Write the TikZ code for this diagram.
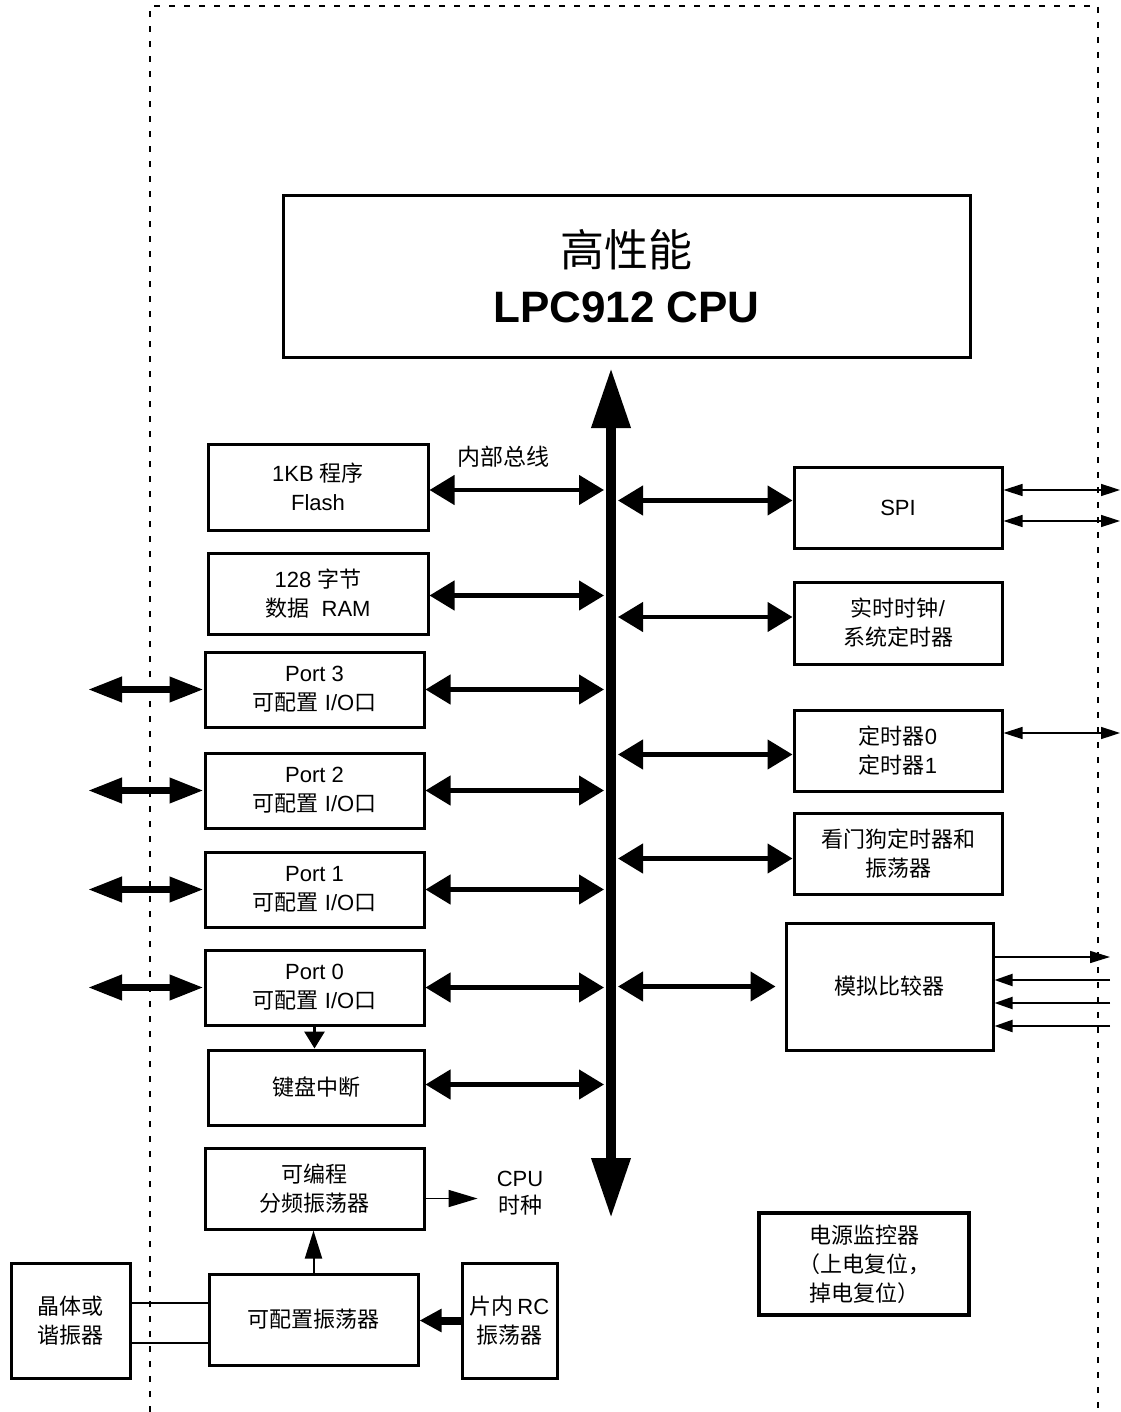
\documentclass[tikz,border=0pt]{standalone}
\usepackage{fontspec}
\setmainfont{Liberation Sans}
\newfontfamily\cjk{Noto Sans CJK SC}
\newcommand{\zh}[1]{{\cjk #1}}
\usetikzlibrary{arrows.meta}

\begin{document}
\begin{tikzpicture}[x=1pt,y=-1pt,
  blk/.style={draw, line width=3pt, inner sep=0pt, align=center, font=\fontsize{22}{29}\selectfont},
  busarr/.style={line width=4.5pt, {Triangle[length=25pt,width=29pt]}-{Triangle[length=25pt,width=29pt]}},
  extarr/.style={line width=7pt, {Triangle[length=34pt,width=24pt]}-{Triangle[length=34pt,width=24pt]}},
  pinarr/.style={line width=1.5pt, {Triangle[length=19pt,width=12pt]}-{Triangle[length=19pt,width=12pt]}},
  onearr/.style={line width=1.5pt, -{Triangle[length=20pt,width=12pt]}}]
\useasboundingbox (0,0) rectangle (1120,1412);
\coordinate (busL) at (604,0);
\coordinate (busR) at (618,0);
\coordinate (edgeL) at (88,0);
\coordinate (edgeR) at (1120,0);
\coordinate (edgeC) at (1110,0);
\draw[dash pattern=on 6pt off 9pt, line width=1.5pt] (150,1412) -- (150,6) -- (1098,6) -- (1098,1412);

% cpu and bus
\node[blk, minimum width=687pt, minimum height=161pt, font=\fontsize{44}{56}\selectfont] (cpu) at (626.5,276.5)
  {\zh{高性能}\\\bfseries LPC912 CPU};
\draw[line width=10pt, {Triangle[length=60pt,width=37pt]}-{Triangle[length=60pt,width=37pt]}] (611,1218) -- (611,368);
\node[font=\fontsize{23}{28}\selectfont] (buslbl) at (503,457) {\zh{内部总线}};

% left side
\node[blk, minimum width=220pt, minimum height=86pt] (flash) at (318,487) {1KB \zh{程序}\\Flash};
\node[blk, minimum width=220pt, minimum height=81pt] (ram) at (318,593.5) {128 \zh{字节}\\\zh{数据}\ \ RAM};
\draw[busarr] ([yshift=-3pt]flash.east) -- ([yshift=-3pt]flash.east -| busL);
\draw[busarr] ([yshift=-2pt]ram.east) -- ([yshift=-2pt]ram.east -| busL);
\foreach \n/\y in {3/689.5, 2/790.5, 1/889.5, 0/987.5} {
  \node[blk, minimum width=219pt, minimum height=75pt] (p\n) at (314.5,\y) {Port \n\\\zh{可配置} I/O\zh{口}};
  \draw[busarr] (p\n.east) -- (p\n.east -| busL);
  \draw[extarr] (p\n.west) -- (p\n.west -| edgeL);
}
\node[blk, minimum width=216pt, minimum height=75pt] (kbd) at (316,1087.5) {\zh{键盘中断}};
\draw[busarr] ([yshift=3pt]kbd.east) -- ([yshift=3pt]kbd.east -| busL);
\draw[line width=3pt, -{Triangle[length=17pt,width=20pt]}] (p0.south) -- (p0.south |- kbd.north);

% clock
\node[blk, minimum width=219pt, minimum height=81pt] (div) at (314.5,1188.5) {\zh{可编程}\\\zh{分频振荡器}};
\node[font=\fontsize{22}{27}\selectfont, align=center, inner sep=2pt] (clk) at (520,1193) {CPU\\\zh{时种}};
\draw[line width=1.5pt, -{Triangle[length=29pt,width=17pt]}, shorten >=17pt] ([yshift=-10pt]div.east) -- ([yshift=-10pt]div.east -| clk.west);
\node[blk, minimum width=209pt, minimum height=91pt] (osc) at (313.5,1319.5) {\zh{可配置振荡器}};
\node[blk, minimum width=119pt, minimum height=115pt] (xtal) at (70.5,1320.5) {\zh{晶体或}\\\zh{谐振器}};
\node[blk, minimum width=95pt, minimum height=115pt] (rc) at (509.5,1320.5) {\zh{片内}\,RC\\\zh{振荡器}};
\draw[line width=2pt, -{Triangle[length=28pt,width=17pt]}] (osc.north) -- (osc.north |- div.south);
\foreach \d in {17.5,-22.5}
  \draw[line width=1.5pt] ([yshift=\d pt]xtal.east) -- ([yshift=\d pt]xtal.east -| osc.west);
\draw[line width=8pt, -{Triangle[length=22pt,width=22pt]}] (rc.west) -- (rc.west -| osc.east);

% right side
\node[blk, minimum width=208pt, minimum height=81pt] (spi) at (898,507.5) {SPI};
\node[blk, minimum width=208pt, minimum height=82pt] (rtc) at (898,623) {\zh{实时时钟}/\\\zh{系统定时器}};
\node[blk, minimum width=208pt, minimum height=81pt] (tmr) at (898,750.5) {\zh{定时器}0\\\zh{定时器}1};
\node[blk, minimum width=208pt, minimum height=81pt] (wdt) at (898,853.5) {\zh{看门狗定时器和}\\\zh{振荡器}};
\node[blk, minimum width=207pt, minimum height=127pt] (cmp) at (889.5,986.5) {\zh{模拟比较器}};
\node[blk, minimum width=210pt, minimum height=102pt, line width=3.5pt] (pwr) at (864,1264)
  {\zh{电源监控器}\\\zh{（上电复位，}\\\zh{掉电复位）}};
\draw[busarr] ([yshift=7pt]spi.west) -- ([yshift=7pt]spi.west -| busR);
\draw[busarr] ([yshift=6pt]rtc.west) -- ([yshift=6pt]rtc.west -| busR);
\draw[busarr] ([yshift=-4pt]tmr.west) -- ([yshift=-4pt]tmr.west -| busR);
\draw[busarr] ([yshift=-5pt]wdt.west) -- ([yshift=-5pt]wdt.west -| busR);
\draw[busarr, shorten <=9pt] (cmp.west) -- (cmp.west -| busR);
\foreach \d in {17.5,-13.5}
  \draw[pinarr] ([yshift=\d pt]spi.east) -- ([yshift=\d pt]spi.east -| edgeR);
\draw[pinarr] ([yshift=17.5pt]tmr.east) -- ([yshift=17.5pt]tmr.east -| edgeR);
\draw[onearr] ([yshift=29.5pt]cmp.east) -- ([yshift=29.5pt]cmp.east -| edgeC);
\foreach \d in {6.5,-16.5,-39.5}
  \draw[line width=2pt, -{Triangle[length=18pt,width=12pt]}] ([yshift=\d pt]cmp.east -| edgeC) -- ([yshift=\d pt]cmp.east);
\end{tikzpicture}
\end{document}
